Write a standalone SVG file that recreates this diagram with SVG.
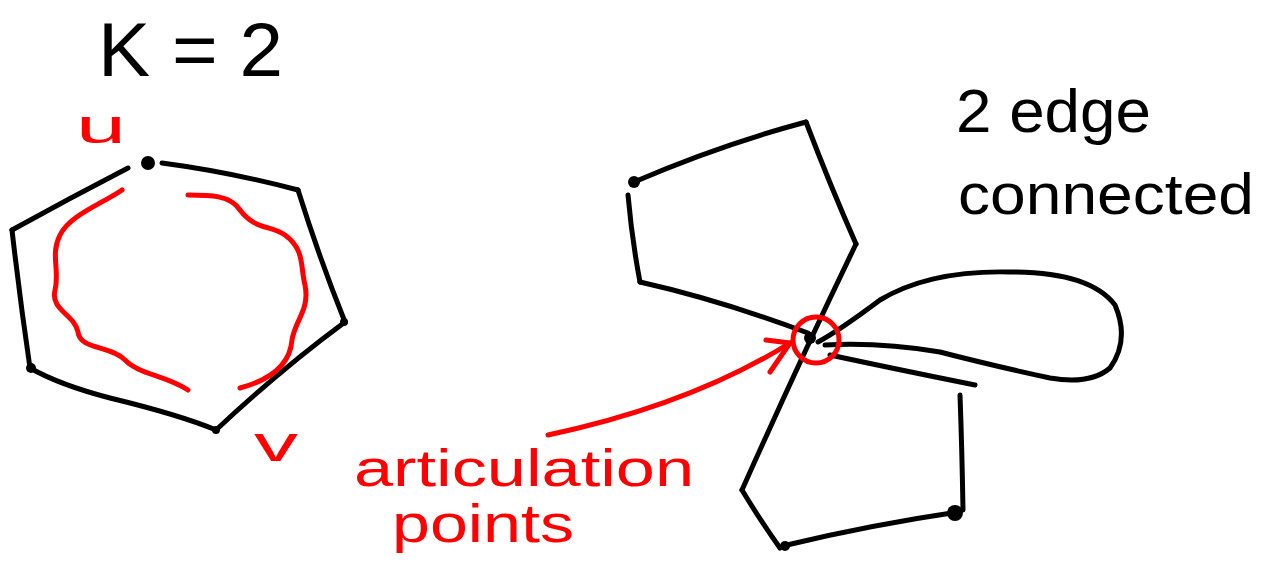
<svg xmlns="http://www.w3.org/2000/svg" width="1271" height="567" viewBox="0 0 1271 567">
<style>
.k{fill:none;stroke:#000;stroke-width:5;stroke-linecap:round;stroke-linejoin:round}
.r{fill:none;stroke:#f00;stroke-width:5;stroke-linecap:round;stroke-linejoin:round}
.tk{font-family:"Liberation Sans",sans-serif;fill:#000}
.tr{font-family:"Liberation Sans",sans-serif;fill:#f00}
.dot{fill:#000}
</style>
<rect width="1271" height="567" fill="#fff"/>
<g id="title">
<text class="tk" x="98" y="76" font-size="76" textLength="185" lengthAdjust="spacingAndGlyphs">K = 2</text>
</g>
<g id="label-2edge">
<text class="tk" x="956" y="132" font-size="62" textLength="195" lengthAdjust="spacingAndGlyphs">2 edge</text>
<text class="tk" x="958" y="214" font-size="58" textLength="296" lengthAdjust="spacingAndGlyphs">connected</text>
</g>
<g id="label-articulation">
<text class="tr" x="354" y="486" font-size="52" textLength="340" lengthAdjust="spacingAndGlyphs">articulation</text>
<text class="tr" x="392" y="542" font-size="54" textLength="182" lengthAdjust="spacingAndGlyphs">points</text>
</g>
<g id="label-u"><text class="tr" x="76" y="143" font-size="48" textLength="50" lengthAdjust="spacingAndGlyphs">u</text></g>
<g id="label-v"><text class="tr" x="254" y="461" font-size="50" textLength="44" lengthAdjust="spacingAndGlyphs">v</text></g>
<g id="hexagon">
<path class="k" d="M12,230 Q70,198 128,168"/>
<path class="k" d="M162,163 Q230,172 298,190"/>
<path class="k" d="M298,190 Q320,260 345,322"/>
<path class="k" d="M345,322 Q280,370 216,430"/>
<path class="k" d="M216,430 Q180,415 110,398 Q60,385 30,368"/>
<path class="k" d="M30,368 Q20,300 12,230"/>
<circle class="dot" cx="148" cy="163" r="7"/>
<circle class="dot" cx="31" cy="368" r="5"/>
<circle class="dot" cx="216" cy="430" r="4"/>
<circle class="dot" cx="344" cy="322" r="4"/>
</g>
<g id="paths-red">
<path class="r" d="M122,190 C100,205 70,215 60,235 C50,255 60,270 55,290 C50,310 75,315 78,332 C80,350 110,345 125,360 C140,375 165,375 188,390"/>
<path class="r" d="M188,195 C210,195 230,195 240,210 C255,230 270,225 285,235 C305,250 300,265 305,285 C310,310 295,320 292,340 C290,365 270,380 240,388"/>
</g>
<g id="graph">
<path class="k" d="M634,182 Q720,145 806,122"/>
<path class="k" d="M806,122 Q830,185 856,244"/>
<path class="k" d="M856,244 Q800,360 742,490"/>
<path class="k" d="M628,195 Q632,240 640,282"/>
<path class="k" d="M640,282 Q720,300 808,333"/>
<path class="k" d="M742,490 Q760,520 780,548"/>
<path class="k" d="M787,545 Q870,525 958,512"/>
<path class="k" d="M963,510 Q962,450 960,395"/>
<path class="k" d="M830,355 Q900,370 975,385"/>
<path class="k" d="M818,342 Q840,330 880,300 Q930,270 1010,272 Q1090,272 1115,305 Q1130,340 1110,368 Q1090,385 1050,378 Q990,365 940,352 Q880,342 825,345"/>
<circle class="dot" cx="634" cy="182" r="6"/>
<circle class="dot" cx="955" cy="513" r="8"/>
<circle class="dot" cx="785" cy="546" r="5"/>
<circle class="dot" cx="810" cy="338" r="6"/>
</g>
<g id="connectors">
<circle class="r" cx="816" cy="340" r="23" stroke-width="6"/>
<path class="r" d="M548,435 Q690,405 790,343"/>
<path class="r" d="M766,340 L790,343 L770,372"/>
</g>
</svg>
